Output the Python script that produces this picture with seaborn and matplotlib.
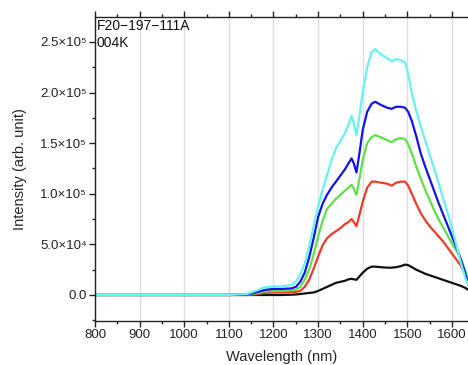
import numpy as np
import pandas as pd
import matplotlib
matplotlib.use("Agg")
import matplotlib.pyplot as plt
import seaborn as sns
from matplotlib.ticker import MultipleLocator, FixedLocator, FixedFormatter

wavelength = [800, 1100, 1140, 1160, 1180, 1200, 1220, 1240, 1250, 1260,
              1270, 1280, 1290, 1300, 1310, 1320, 1330, 1340, 1350, 1360,
              1368, 1375, 1380, 1386, 1392, 1400, 1410, 1420, 1428, 1440,
              1455, 1465, 1475, 1485, 1495, 1502, 1510, 1520, 1530, 1540,
              1550, 1560, 1570, 1580, 1590, 1600, 1610, 1620, 1630, 1640]

black = [0, 0, 0, 0, 0, 0, 0, 300, 500, 1000,
         1500, 2000, 2500, 4000, 6000, 8000, 10000, 12000, 13000, 14000,
         15500, 16000, 15500, 15000, 18000, 22000, 26000, 28000, 28000, 27500,
         27000, 27000, 27500, 28500, 30000, 29500, 27500, 25000, 23000, 21000,
         19500, 18000, 16500, 15000, 13500, 12000, 10500, 9000, 7000, 4000]
red = [0, 0, 0, 800, 2000, 2500, 2500, 3000, 3000, 4000,
       8000, 15000, 26000, 38000, 49000, 56000, 60000, 63000, 66000, 70000,
       72000, 75000, 72000, 68000, 78000, 92000, 106000, 112000, 112000, 111000,
       110000, 108000, 111000, 112000, 112000, 108000, 100000, 90000, 81000, 74000,
       68000, 63000, 58000, 53000, 47000, 41000, 35000, 29000, 20000, 6000]
green = [0, 0, 300, 1500, 3500, 4000, 4000, 4500, 5000, 8000,
         15000, 25000, 40000, 58000, 73000, 85000, 90000, 95000, 99000, 103000,
         106000, 109000, 105000, 99000, 113000, 133000, 150000, 156000, 158000, 156000,
         153000, 151000, 154000, 155000, 154000, 149000, 140000, 127000, 115000, 104000,
         94000, 84000, 75000, 67000, 59000, 51000, 44000, 36000, 24000, 7000]
blue = [0, 0, 500, 2500, 5000, 6000, 6000, 6500, 8000, 13000,
        22000, 37000, 56000, 77000, 90000, 99000, 106000, 112000, 118000, 124000,
        130000, 135000, 130000, 121000, 138000, 163000, 181000, 189000, 191000, 188000,
        185000, 184000, 186000, 186000, 185000, 181000, 172000, 157000, 140000, 127000,
        115000, 103000, 91000, 80000, 69000, 58000, 47000, 35000, 21000, 6000]
cyan = [0, 0, 1000, 4000, 7500, 8500, 8500, 10000, 13000, 20000,
        31000, 48000, 68000, 87000, 104000, 118000, 133000, 145000, 152000, 160000,
        168000, 177000, 170000, 158000, 175000, 200000, 225000, 240000, 243000, 238000,
        234000, 231000, 233000, 232000, 230000, 218000, 200000, 182000, 167000, 153000,
        139000, 125000, 111000, 96000, 82000, 66000, 49000, 32000, 17000, 6000]

series_names = ["black", "red", "green", "blue", "cyan"]
series_values = [black, red, green, blue, cyan]
colors = ["#111111", "#f03a28", "#5ee048", "#1414e6", "#66f2f2"]

ytick_vals = [0, 50000, 100000, 150000, 200000, 250000]
ytick_labels = ["0.0", "5.0×10⁴", "1.0×10⁵", "1.5×10⁵", "2.0×10⁵", "2.5×10⁵"]

df = pd.concat([pd.DataFrame({"wl": wavelength, "val": v, "s": n})
                for n, v in zip(series_names, series_values)], ignore_index=True)

sns.set_style("white")
plt.rcParams['font.family'] = ['Liberation Sans', 'DejaVu Sans']

fig = plt.figure(figsize=(4.68, 3.65), dpi=100)
ax = fig.add_axes([95/468, 1-321/365, 1-95/468, (321-17)/365])

for x in range(800, 1700, 100):
    ax.axvline(x, color="#dedede", lw=1.0, zorder=0)

sns.lineplot(data=df, x="wl", y="val", hue="s", hue_order=series_names,
             palette=colors, lw=1.6, legend=False, ax=ax, sort=False, estimator=None)

ax.set_xlim(800, 1636)
ax.set_ylim(-25700, 274700)
ax.xaxis.set_major_locator(MultipleLocator(100))
ax.xaxis.set_minor_locator(MultipleLocator(50))
ax.yaxis.set_major_locator(FixedLocator(ytick_vals))
ax.yaxis.set_major_formatter(FixedFormatter(ytick_labels))
ax.yaxis.set_minor_locator(MultipleLocator(25000))

ax.spines["right"].set_visible(False)
for sp in ["left", "bottom", "top"]:
    ax.spines[sp].set_color("#222222")
    ax.spines[sp].set_linewidth(1.0)

ax.tick_params(axis="both", which="major", direction="out", length=4, width=1,
               labelsize=9.5, colors="#222222", top=True, bottom=True, left=True, right=False)
ax.tick_params(axis="both", which="minor", direction="out", length=2.5, width=1,
               top=True, bottom=True, left=True, right=False)
ax.tick_params(axis="x", labeltop=False, pad=2)
ax.tick_params(axis="y", pad=2)

ax.set_xlabel("Wavelength (nm)", fontsize=10.5, labelpad=6)
ax.set_ylabel("Intensity (arb. unit)", fontsize=10.5, labelpad=9)

ax.text(0.005, 0.995, "F20\u2212197\u2212111A\n004K", transform=ax.transAxes,
        ha="left", va="top", fontsize=10, linespacing=1.3, color="#111111")

fig.savefig("out.png", dpi=100)
